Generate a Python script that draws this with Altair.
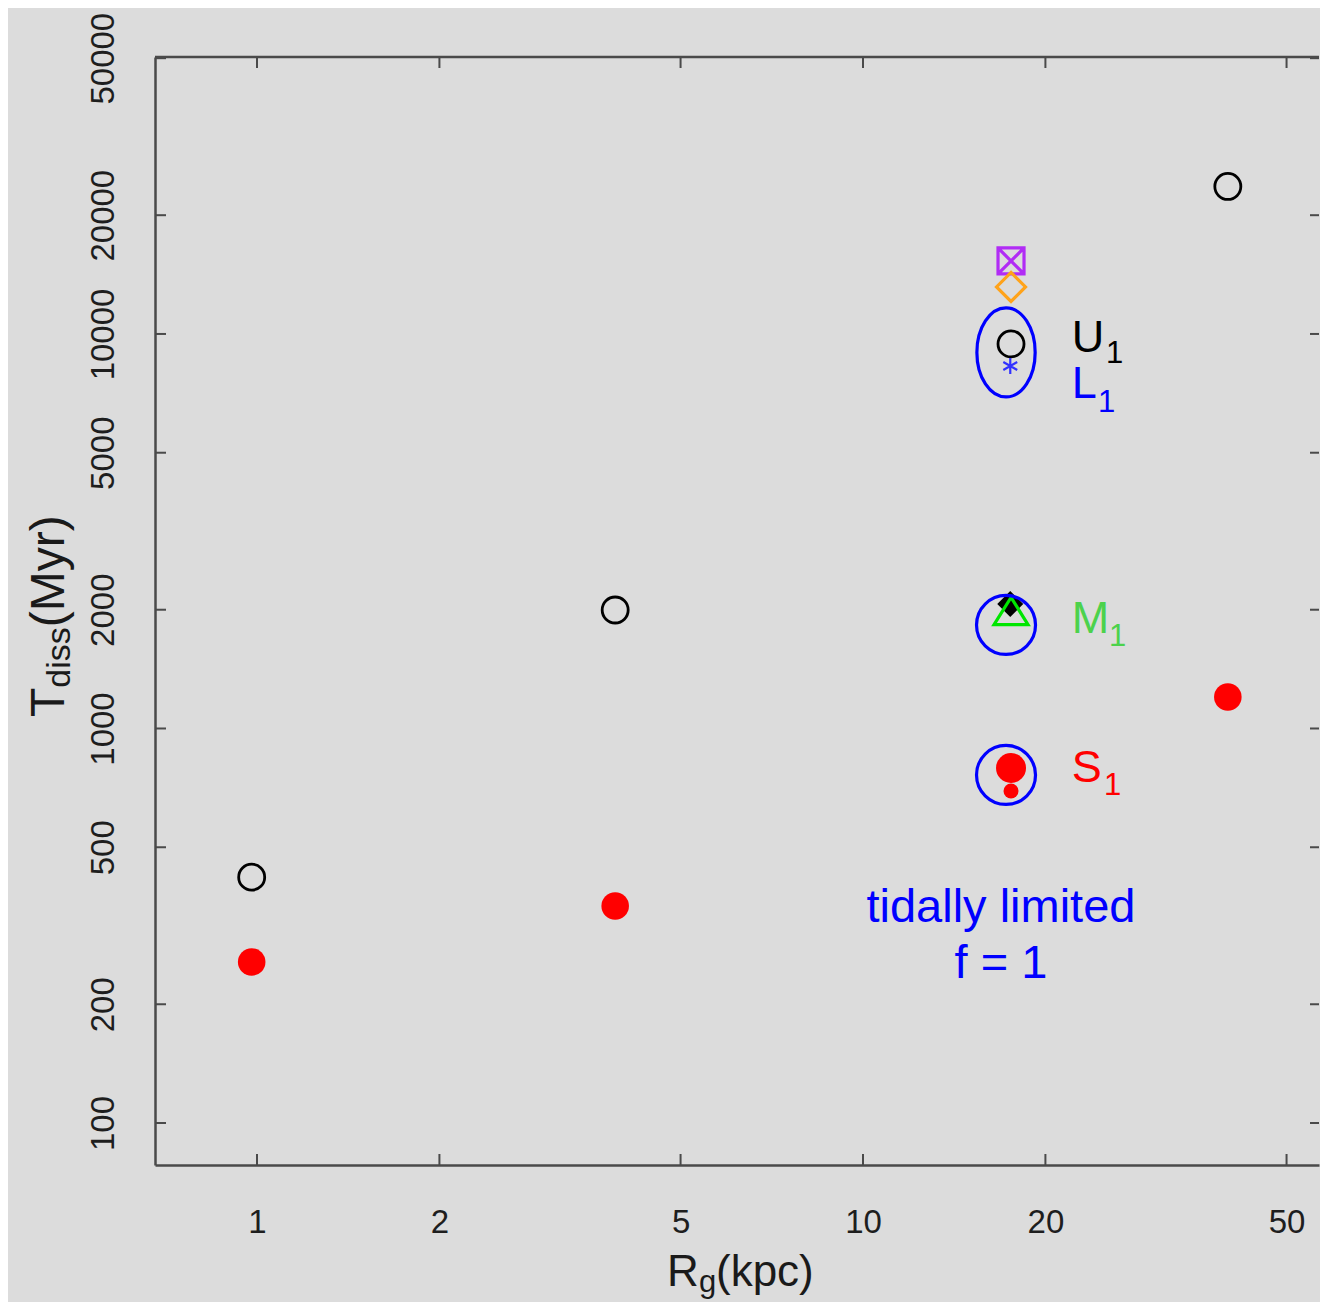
import altair as alt
import pandas as pd

W, H = 1164, 1108
FONT = "Liberation Sans"
AXC = "#4a4a4a"

# ---------------- data ----------------
x_domain = [0.6787, 56.56]
y_domain = [78.27, 50350]
x_ticks = [1, 2, 5, 10, 20, 50]
y_ticks = [100, 200, 500, 1000, 2000, 5000, 10000, 20000, 50000]

# open black circles (U)
oc_x = [0.98, 3.90, 17.55, 40.0]
oc_y = [420, 1997, 9435, 23650]
# filled red circles (S)
rc_x = [0.98, 3.90, 40.0]
rc_y = [256, 355, 1202]
# cluster at Rg ~ 17.5 kpc
s1_x = [17.55, 17.55]
s1_y = [794, 694.5]
s1_size = [900, 225]
sqx_x = [17.55]
sqx_y = [15311]
dia_o_x = [17.55]
dia_o_y = [13155]
ast_x = [17.5]
ast_y = [8296]
dia_b_x = [17.5]
dia_b_y = [2068]
tri_x = [17.55]
tri_y = [1985]
# blue enclosures
ell_x = [17.22]
ell_y = [8979]
ring_x = [17.22, 17.22]
ring_y = [1830, 762.5]

# labels
lab_text = ["U", "L", "M", "S"]
lab_x = [22.1, 22.1, 22.1, 22.1]
lab_y = [9004, 6885, 1746, 732]
sub_text = ["1", "1", "1", "1"]
sub_x = [25.18, 24.42, 25.47, 24.99]
sub_y = [8443, 6343, 1619, 678]
lab_color = ["#000000", "#0000ff", "#4cd24c", "#ff0000"]
note_text = ["tidally limited", "f = 1"]
note_x = [16.89, 16.89]
note_y = [323.2, 233.1]

# ---------------- scales / axes ----------------
xs = alt.Scale(type="log", domain=x_domain, nice=False)
ys = alt.Scale(type="log", domain=y_domain, nice=False)

xaxis = alt.Axis(values=x_ticks, title=None, ticks=False, tickSize=0, grid=False,
                 domain=True, domainColor=AXC, domainWidth=2.5,
                 labelFont=FONT, labelFontSize=33, labelColor="#1e1e1e",
                 labelPadding=67, labelBaseline="alphabetic", labelAlign="center",
                 labelFlush=False, labelOverlap=False, format="d")
yaxis = alt.Axis(values=y_ticks, title=None, ticks=False, tickSize=0, grid=False,
                 domain=True, domainColor=AXC, domainWidth=2.5,
                 labelFont=FONT, labelFontSize=33, labelColor="#1e1e1e",
                 labelAngle=270, labelAlign="center", labelBaseline="alphabetic",
                 labelPadding=42, labelFlush=False, labelOverlap=False, format="d")

def X(f="x"):
    return alt.X(f"{f}:Q", scale=xs, axis=xaxis)

def Y(f="y"):
    return alt.Y(f"{f}:Q", scale=ys, axis=yaxis)

one = pd.DataFrame({"a": [0]})
df_xt = pd.DataFrame({"v": x_ticks})
df_yt = pd.DataFrame({"v": y_ticks})

layers = []

# inward ticks
layers.append(alt.Chart(df_xt).mark_rule(color=AXC, strokeWidth=2).encode(
    x=X("v"), y=alt.value(H), y2=alt.value(H - 11)))
layers.append(alt.Chart(df_xt).mark_rule(color=AXC, strokeWidth=2).encode(
    x=X("v"), y=alt.value(0), y2=alt.value(11)))
layers.append(alt.Chart(df_yt).mark_rule(color=AXC, strokeWidth=2).encode(
    y=Y("v"), x=alt.value(0), x2=alt.value(11)))
layers.append(alt.Chart(df_yt).mark_rule(color=AXC, strokeWidth=2).encode(
    y=Y("v"), x=alt.value(W - 9), x2=alt.value(W)))
# top frame line
layers.append(alt.Chart(one).mark_rule(color=AXC, strokeWidth=2.5).encode(
    x=alt.value(0), x2=alt.value(W), y=alt.value(0)))

# red filled circles
layers.append(alt.Chart(pd.DataFrame({"x": rc_x, "y": rc_y})).mark_circle(
    color="#ff0000", opacity=1, size=760).encode(x=X(), y=Y()))
layers.append(alt.Chart(pd.DataFrame({"x": s1_x, "y": s1_y, "s": s1_size})).mark_circle(
    color="#ff0000", opacity=1).encode(x=X(), y=Y(),
                                        size=alt.Size("s:Q", scale=None, legend=None)))

# open black circles
layers.append(alt.Chart(pd.DataFrame({"x": oc_x, "y": oc_y})).mark_point(
    shape="circle", filled=False, color="#000000", strokeWidth=2.8, size=676,
    opacity=1).encode(x=X(), y=Y()))

# purple square with X
layers.append(alt.Chart(pd.DataFrame({"x": sqx_x, "y": sqx_y})).mark_point(
    shape="M-1,-1L1,-1L1,1L-1,1Z M-1,-1L1,1 M1,-1L-1,1",
    filled=False, color="#b12cf5", strokeWidth=3.2, size=676, opacity=1).encode(x=X(), y=Y()))
# orange diamond
layers.append(alt.Chart(pd.DataFrame({"x": dia_o_x, "y": dia_o_y})).mark_point(
    shape="M0,-1L1,0L0,1L-1,0Z", filled=False, color="#ffa31a", strokeWidth=3.2,
    size=841, opacity=1).encode(x=X(), y=Y()))
# blue asterisk
layers.append(alt.Chart(pd.DataFrame({"x": ast_x, "y": ast_y})).mark_point(
    shape="M0,-1L0,1M-0.87,-0.5L0.87,0.5M-0.87,0.5L0.87,-0.5", filled=False,
    color="#3232ff", strokeWidth=2.2, size=256, opacity=1).encode(x=X(), y=Y()))
# black filled diamond
layers.append(alt.Chart(pd.DataFrame({"x": dia_b_x, "y": dia_b_y})).mark_point(
    shape="M0,-1L1,0L0,1L-1,0Z", filled=True, color="#000000", size=676,
    opacity=1).encode(x=X(), y=Y()))
# green open triangle
layers.append(alt.Chart(pd.DataFrame({"x": tri_x, "y": tri_y})).mark_point(
    shape="M0,-0.8L1,0.8L-1,0.8Z", filled=False, color="#00e600", strokeWidth=3.2,
    size=1156, opacity=1).encode(x=X(), y=Y()))

# blue enclosures
a = 0.655
k = 0.5523
ell_path = (f"M0,-1C{k*a:.4f},-1 {a},-{k} {a},0C{a},{k} {k*a:.4f},1 0,1"
            f"C-{k*a:.4f},1 -{a},{k} -{a},0C-{a},-{k} -{k*a:.4f},-1 0,-1Z")
layers.append(alt.Chart(pd.DataFrame({"x": ell_x, "y": ell_y})).mark_point(
    shape=ell_path, filled=False, color="#0000ff", strokeWidth=3.2, size=7921,
    opacity=1).encode(x=X(), y=Y()))
layers.append(alt.Chart(pd.DataFrame({"x": ring_x, "y": ring_y})).mark_point(
    shape="circle", filled=False, color="#0000ff", strokeWidth=3.2, size=3481,
    opacity=1).encode(x=X(), y=Y()))

# labels U1, L1, M1, S1
df_lab = pd.DataFrame({"t": lab_text, "x": lab_x, "y": lab_y, "c": lab_color})
df_sub = pd.DataFrame({"t": sub_text, "x": sub_x, "y": sub_y, "c": lab_color})
layers.append(alt.Chart(df_lab).mark_text(font=FONT, fontSize=45, align="left",
                                          baseline="alphabetic").encode(
    x=X(), y=Y(), text="t:N", color=alt.Color("c:N", scale=None, legend=None)))
layers.append(alt.Chart(df_sub).mark_text(font=FONT, fontSize=31, align="left",
                                          baseline="alphabetic").encode(
    x=X(), y=Y(), text="t:N", color=alt.Color("c:N", scale=None, legend=None)))
# tidally limited note
layers.append(alt.Chart(pd.DataFrame({"t": note_text, "x": note_x, "y": note_y})).mark_text(
    font=FONT, fontSize=47, align="center", baseline="alphabetic", color="#0000ff").encode(
    x=X(), y=Y(), text="t:N"))

# axis titles (rich text pieces)
def txt(s, x, y, size, angle=0):
    kw = dict(text=s, font=FONT, fontSize=size, align="left", baseline="alphabetic",
              color="#1a1a1a")
    if angle:
        kw["angle"] = angle
    return alt.Chart(one).mark_text(**kw).encode(x=alt.value(x), y=alt.value(y))

layers.append(txt("R", 512, 1229, 44))
layers.append(txt("g", 544, 1235, 31))
layers.append(txt("(kpc)", 561, 1229, 44))
layers.append(txt("T", -91, 660, 48, 270))
layers.append(txt("diss", -85, 630.7, 34, 270))
layers.append(txt("(Myr)", -91, 570.3, 48, 270))

chart = alt.layer(*layers).properties(
    width=W, height=H,
    autosize=alt.AutoSizeParams(type="none"),
    padding={"left": 147, "top": 49, "right": 1, "bottom": 137},
).configure(background="#dcdcdc").configure_view(stroke="transparent")

chart.save("out.html", embed_options={"renderer": "svg", "actions": False})
